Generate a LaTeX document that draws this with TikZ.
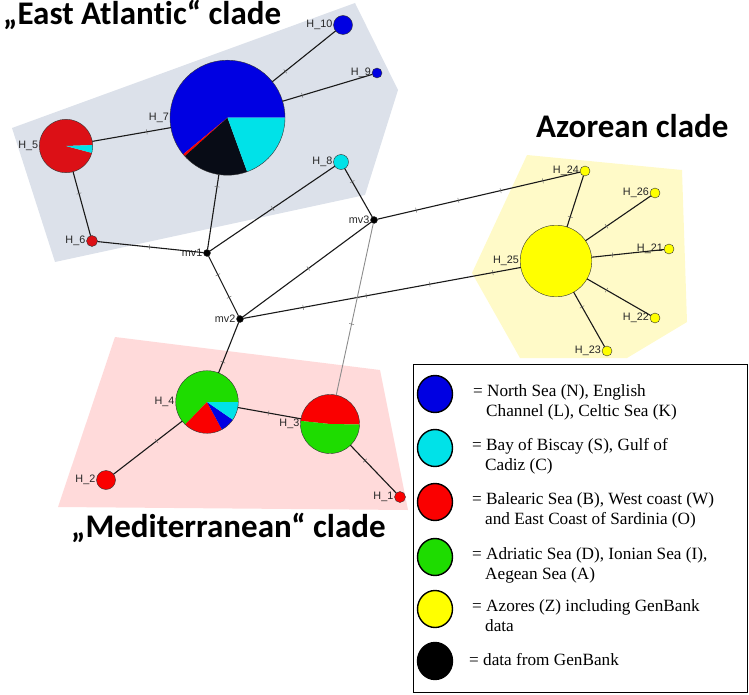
\documentclass[tikz,border=0pt]{standalone}
\usepackage{fontspec}
\setmainfont{Liberation Serif}
\newfontfamily\labfont{Liberation Sans}
\newfontfamily\titlefont{Carlito}[Ligatures=NoCommon]
\usetikzlibrary{shapes.geometric}
\definecolor{cblue}{RGB}{0,0,226}
\definecolor{ccyan}{RGB}{0,226,232}
\definecolor{cred}{RGB}{250,0,0}
\definecolor{cdred}{RGB}{220,16,22}
\definecolor{cgreen}{RGB}{30,220,0}
\definecolor{cyel}{RGB}{255,255,0}
\definecolor{cblk}{RGB}{8,12,22}
\definecolor{polygray}{RGB}{220,225,234}
\definecolor{polypink}{RGB}{255,218,218}
\definecolor{polyyel}{RGB}{255,250,200}
\newcommand\pieslice[5]{\fill[#5] (#1) -- ++(#3:#2) arc[start angle=#3, end angle=#4, radius=#2] -- cycle;}
\newcommand\mutat[3]{\path (#1.center) -- node[mut,pos=#3]{} (#2.center);}
\tikzset{
  hap/.style={circle, draw=black!80, line width=0.4pt, inner sep=0pt, outer sep=0pt},
  lab/.style={font=\labfont\fontsize{10.8}{12}\selectfont, text=black!85, inner sep=0pt},
  edge/.style={draw=black!90, line width=1.1pt},
  grayedge/.style={draw=black!45, line width=0.9pt},
  mut/.style={shape=rectangle, sloped, draw=black!60, line width=0.45pt, inner sep=0pt, minimum width=0pt, minimum height=5pt},
  cladetitle/.style={font=\titlefont\bfseries\fontsize{33}{36}\selectfont, inner sep=0pt, anchor=base west},
  legc/.style={ellipse, draw=black, line width=1.4pt, minimum width=35pt, minimum height=37pt, inner sep=0pt},
  legt/.style={font=\fontsize{17.2}{20}\selectfont, align=left, inner sep=0pt, anchor=north west},
}
\begin{document}
\begin{tikzpicture}[x=1pt,y=-1pt]
\useasboundingbox (0,0) rectangle (749,695);
% clade backgrounds
\fill[polygray] (12,128) -- (355,3) -- (398,90) -- (365,195) -- (55,262) -- cycle;
\fill[polypink] (115,337) -- (380,370) -- (408,510) -- (58,507) -- cycle;
\fill[polyyel] (527,155) -- (682,170) -- (687,322) -- (627,358) -- (520,358) -- (472,273) -- cycle;
% titles
\node[cladetitle] (tEA) at (3,25) {„East Atlantic“ clade};
\node[cladetitle] (tAZ) at (536,138) {Azorean clade};
\node[cladetitle] (tME) at (71,537) {„Mediterranean“ clade};
% pies
\coordinate (c7) at (227.5,117.7);
\pieslice{c7}{57.5pt}{0}{219.5}{cblue}
\pieslice{c7}{57.5pt}{219.5}{222}{cred}
\pieslice{c7}{57.5pt}{222}{290}{cblk}
\pieslice{c7}{57.5pt}{290}{360}{ccyan}
\coordinate (c5) at (66,146);
\pieslice{c5}{26.7pt}{2}{345}{cdred}
\pieslice{c5}{26.7pt}{-15}{2}{ccyan}
\coordinate (c4) at (207,402);
\pieslice{c4}{31.3pt}{0}{226}{cgreen}
\pieslice{c4}{31.3pt}{226}{298.5}{cred}
\pieslice{c4}{31.3pt}{298.5}{325.5}{cblue}
\pieslice{c4}{31.3pt}{325.5}{360}{ccyan}
\coordinate (c3) at (330,424);
\pieslice{c3}{29.5pt}{-1}{174}{cred}
\pieslice{c3}{29.5pt}{174}{359}{cgreen}
% haplotype nodes
\node[hap, minimum size=115pt, label={[lab,label distance=1pt]left:H\_7}] (H7) at (c7) {};
\node[hap, minimum size=53.4pt, label={[lab,label distance=1pt]left:H\_5}] (H5) at (c5) {};
\node[hap, minimum size=62.6pt, label={[lab,label distance=1pt]left:H\_4}] (H4) at (c4) {};
\node[hap, minimum size=59pt, label={[lab,label distance=1pt]left:H\_3}] (H3) at (c3) {};
\node[hap, fill=cblue, minimum size=19pt, label={[lab,label distance=1pt]left:H\_10}] (H10) at (343,25) {};
\node[hap, fill=cblue, minimum size=10pt, label={[lab,label distance=1pt]left:H\_9}] (H9) at (377,73) {};
\node[hap, fill=cdred, minimum size=11pt, label={[lab,label distance=1pt]left:H\_6}] (H6) at (92,241) {};
\node[hap, fill=ccyan, minimum size=15pt, label={[lab,label distance=1pt]left:H\_8}] (H8) at (341,162) {};
\node[hap, fill=cred, minimum size=19pt, label={[lab,label distance=1pt]left:H\_2}] (H2) at (106,480) {};
\node[hap, fill=cred, minimum size=11pt, label={[lab,label distance=1pt]left:H\_1}] (H1) at (400,497) {};
\node[hap, fill=black, minimum size=7pt, label={[lab,label distance=1pt]left:mv1}] (mv1) at (207,253) {};
\node[hap, fill=black, minimum size=7pt, label={[lab,label distance=1pt]left:mv2}] (mv2) at (240,319) {};
\node[hap, fill=black, minimum size=7pt, label={[lab,label distance=1pt]left:mv3}] (mv3) at (374,220) {};
\node[hap, fill=cyel, minimum size=71.6pt, label={[lab,label distance=1pt]left:H\_25}] (H25) at (556,261) {};
\node[hap, fill=cyel, minimum size=10pt, label={[lab,label distance=1pt]left:H\_24}] (H24) at (585,171) {};
\node[hap, fill=cyel, minimum size=10pt, label={[lab,label distance=1pt]left:H\_26}] (H26) at (655,193) {};
\node[hap, fill=cyel, minimum size=10pt, label={[lab,label distance=1pt]left:H\_21}] (H21) at (669,249) {};
\node[hap, fill=cyel, minimum size=10pt, label={[lab,label distance=1pt]left:H\_22}] (H22) at (655,318) {};
\node[hap, fill=cyel, minimum size=10pt, label={[lab,label distance=1pt]left:H\_23}] (H23) at (607,351) {};
% connectors
\draw[edge] (H10) -- (H7);
\draw[edge] (H9) -- (H7);
\draw[edge] (H5) -- (H7);
\draw[edge] (H5) -- (H6);
\draw[edge] (H6) -- (mv1);
\draw[edge] (H7) -- (mv1);
\draw[edge] (mv1) -- (H8);
\draw[edge] (H8) -- (mv3);
\draw[edge] (mv1) -- (mv2);
\draw[edge] (mv2) -- (mv3);
\draw[edge] (mv3) -- (H24);
\draw[edge] (mv2) -- (H25);
\draw[edge] (mv2) -- (H4);
\draw[edge] (H4) -- (H3);
\draw[edge] (H4) -- (H2);
\draw[edge] (H3) -- (H1);
\draw[grayedge] (mv3) -- (H3);
\draw[edge] (H25) -- (H24);
\draw[edge] (H25) -- (H26);
\draw[edge] (H25) -- (H21);
\draw[edge] (H25) -- (H22);
\draw[edge] (H25) -- (H23);
% mutation ticks
\mutat{H10}{H7}{0.5}
\mutat{H9}{H7}{0.5}
\mutat{H5}{H7}{0.5}
\mutat{H5}{H6}{0.5}
\mutat{H6}{mv1}{0.5}
\mutat{H7}{mv1}{0.51}
\mutat{mv1}{H8}{0.49}
\mutat{H8}{mv3}{0.34}
\mutat{mv1}{mv2}{0.33}
\mutat{mv1}{mv2}{0.67}
\mutat{mv2}{mv3}{0.51}
\mutat{mv3}{H24}{0.2}
\mutat{mv3}{H24}{0.4}
\mutat{mv3}{H24}{0.6}
\mutat{mv3}{H24}{0.8}
\mutat{mv2}{H25}{0.2}
\mutat{mv2}{H25}{0.4}
\mutat{mv2}{H25}{0.6}
\mutat{mv2}{H25}{0.8}
\mutat{mv2}{H4}{0.52}
\mutat{H4}{H3}{0.5}
\mutat{H4}{H2}{0.5}
\mutat{H3}{H1}{0.5}
\mutat{mv3}{H3}{0.38}
\mutat{mv3}{H3}{0.51}
\mutat{H25}{H24}{0.49}
\mutat{H25}{H26}{0.51}
\mutat{H25}{H21}{0.5}
\mutat{H25}{H22}{0.51}
\mutat{H25}{H23}{0.51}
% legend
\node[draw=black, line width=1.6pt, inner sep=0pt, minimum width=334pt, minimum height=328pt, anchor=north west] (legend) at (412.5,363.5) {};
\node[legc, fill=cblue] (L1) at (435,394) {};
\node[legc, fill=ccyan] (L2) at (435,448) {};
\node[legc, fill=cred] (L3) at (435,502) {};
\node[legc, fill=cgreen] (L4) at (435,557) {};
\node[legc, fill=cyel] (L5) at (435,609) {};
\node[legc, fill=black] (L6) at (435,661) {};
\node[legt] (T1) at (473,384) {= North Sea (N), English\\\hspace*{13pt}Channel (L), Celtic Sea (K)};
\node[legt] (T2) at (472,438) {= Bay of Biscay (S), Gulf of\\\hspace*{13pt}Cadiz (C)};
\node[legt] (T3) at (472,492) {= Balearic Sea (B), West coast (W)\\\hspace*{13pt}and East Coast of Sardinia (O)};
\node[legt] (T4) at (472,547) {= Adriatic Sea (D), Ionian Sea (I),\\\hspace*{13pt}Aegean Sea (A)};
\node[legt] (T5) at (472,599) {= Azores (Z) including GenBank\\\hspace*{13pt}data};
\node[legt] (T6) at (469,653) {= data from GenBank};
\end{tikzpicture}
\end{document}
